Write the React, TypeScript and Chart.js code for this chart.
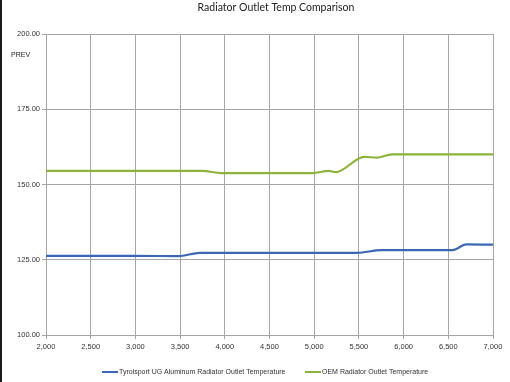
import React, { useEffect, useRef } from "react";
import { Chart, registerables } from "chart.js";

Chart.register(...registerables);

const titleText = "Radiator Outlet Temp Comparison";
const yAxisLabel = "PREV";
const seriesNames = [
  "Tyrolsport UG Aluminum Radiator Outlet Temperature",
  "OEM Radiator Outlet Temperature",
];
const tyrolRpm = [2000, 3000, 3480, 3720, 4500, 5480, 5750, 6200, 6550, 6700, 7000];
const tyrolTemp = [126.3, 126.3, 126.2, 127.3, 127.3, 127.3, 128.2, 128.2, 128.2, 130.1, 130.0];
const oemRpm = [2000, 3000, 3750, 3960, 4500, 4980, 5160, 5240, 5560, 5700, 5870, 6500, 7000];
const oemTemp = [154.5, 154.5, 154.5, 153.8, 153.8, 153.8, 154.5, 154.1, 159.2, 158.9, 160.0, 160.0, 160.0];
const blueColor = "#3a68b4";
const greenColor = "#8db33c";

const smallFont = "Liberation Sans";

export default function App() {
  const ref = useRef<HTMLCanvasElement | null>(null);
  useEffect(() => {
    if (!ref.current) return;
    const deco = {
      id: "deco",
      beforeDraw(chart: any) {
        const ctx = chart.ctx;
        ctx.save();
        ctx.fillStyle = "#ffffff";
        ctx.fillRect(0, 0, chart.width, chart.height);
        ctx.fillStyle = "#1a1a1a";
        ctx.fillRect(0, 0, 2, chart.height);
        ctx.restore();
      },
      afterDraw(chart: any) {
        const ctx = chart.ctx;
        ctx.save();
        ctx.fillStyle = "#222";
        ctx.font = "10.5px Lato";
        ctx.textAlign = "center";
        ctx.textBaseline = "middle";
        ctx.fillText(titleText, 276, 8);
        ctx.font = `7px ${smallFont}`;
        ctx.textAlign = "left";
        ctx.fillText(yAxisLabel, 11, 55);
        const ly = 372;
        const items = [
          { x: 102, c: blueColor, t: seriesNames[0] },
          { x: 305, c: greenColor, t: seriesNames[1] },
        ];
        for (const it of items) {
          ctx.strokeStyle = it.c;
          ctx.lineWidth = 2;
          ctx.beginPath();
          ctx.moveTo(it.x, ly);
          ctx.lineTo(it.x + 16, ly);
          ctx.stroke();
          ctx.fillStyle = "#333";
          ctx.font = `7px ${smallFont}`;
          ctx.fillText(it.t, it.x + 17, ly);
        }
        ctx.restore();
      },
    };
    const chart = new Chart(ref.current, {
      type: "line",
      data: {
        datasets: [
          {
            label: seriesNames[0],
            data: tyrolRpm.map((x, i) => ({ x, y: tyrolTemp[i] })),
            borderColor: blueColor,
            backgroundColor: blueColor,
            borderWidth: 2.2,
            pointRadius: 0,
            cubicInterpolationMode: "monotone",
          },
          {
            label: seriesNames[1],
            data: oemRpm.map((x, i) => ({ x, y: oemTemp[i] })),
            borderColor: greenColor,
            backgroundColor: greenColor,
            borderWidth: 2.2,
            pointRadius: 0,
            cubicInterpolationMode: "monotone",
          },
        ],
      },
      options: {
        animation: false,
        responsive: false,
        maintainAspectRatio: false,
        layout: { padding: { left: 0, top: 34, right: 17, bottom: 0 } },
        plugins: {
          legend: { display: false },
          title: { display: false },
          tooltip: { enabled: false },
        },
        scales: {
          x: {
            type: "linear",
            min: 2000,
            max: 7000,
            afterFit(scale: any) {
              scale.height = 47;
            },
            ticks: {
              stepSize: 500,
              color: "#333",
              font: { size: 7.5, family: smallFont },
              padding: 3,
              maxRotation: 0,
              callback: (v: any) => Number(v).toLocaleString("en-US"),
            },
            grid: { color: "#a6a6a6", lineWidth: 1, tickLength: 4 },
            border: { color: "#a6a6a6" },
          },
          y: {
            min: 100,
            max: 200,
            afterFit(scale: any) {
              scale.width = 46;
            },
            ticks: {
              stepSize: 25,
              color: "#333",
              font: { size: 7.5, family: smallFont },
              padding: 2,
              callback: (v: any) => Number(v).toFixed(2),
            },
            grid: { color: "#a6a6a6", lineWidth: 1, tickLength: 4 },
            border: { color: "#a6a6a6" },
          },
        },
      },
      plugins: [deco],
    } as any);
    return () => chart.destroy();
  }, []);
  return (
    <div style={{ position: "fixed", left: 0, top: 0, width: 510, height: 382, background: "#fff" }}>
      <canvas ref={ref} width={510} height={382} style={{ width: 510, height: 382, display: "block" }} />
    </div>
  );
}
